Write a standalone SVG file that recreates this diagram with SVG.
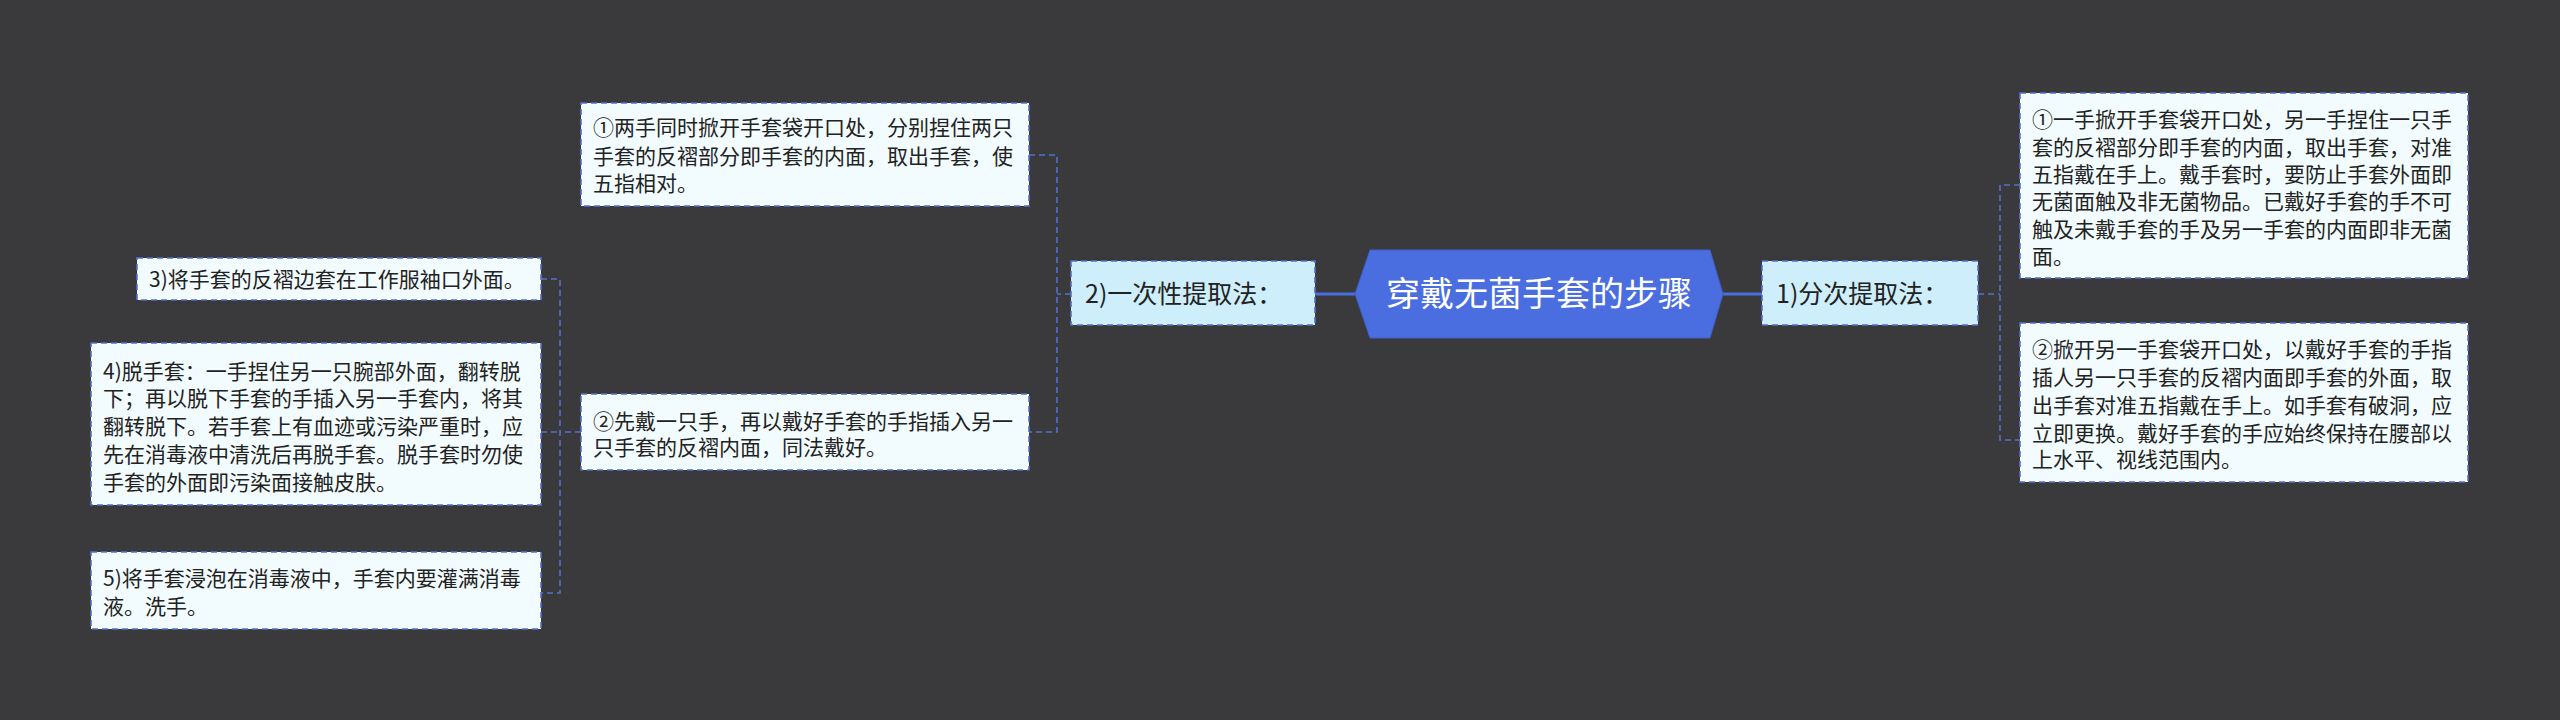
<svg xmlns="http://www.w3.org/2000/svg" width="2560" height="720" viewBox="0 0 2560 720">
<style>
.leaf{fill:#f2fcfe;stroke:#5570cc;stroke-width:1.6;stroke-dasharray:6 4}
.sub{fill:#cdeefa;stroke:#5570cc;stroke-width:1.6;stroke-dasharray:6 4}
.t{font-family:"Noto Sans CJK SC","Noto Sans",sans-serif;font-size:21px;fill:#222}
.ts{font-family:"Noto Sans CJK SC","Noto Sans",sans-serif;font-size:25px;fill:#222}
.c{fill:none;stroke:#5570cc;stroke-width:1.6;stroke-dasharray:6 4}
.cs{fill:none;stroke:#4a6ee0;stroke-width:3}
</style>
<rect width="2560" height="720" fill="#3a393b"/>
<g id="connectors">
<path class="cs" d="M1355 294H1315M1723 294H1762"/>
<path class="c" d="M1978 294H2000M2020 185H2000V440H2020"/>
<path class="c" d="M1071 294H1057M1029 155H1057V432H1029"/>
<path class="c" d="M581 432H560M541 279H560V593H541M541 432H560"/>
</g>
<g id="center"><polygon points="1370,250 1710,250 1723,294 1710,338 1370,338 1355,294" fill="#4a6ee0" stroke="#3e5fcc"/>
<text x="1539" y="306" text-anchor="middle" font-family="Noto Sans CJK SC,sans-serif" font-size="34" fill="#fff">穿戴无菌手套的步骤</text></g>
<g id="n1"><rect class="sub" x="1762" y="261" width="216" height="64"/><text class="ts" x="1776" y="303">1)分次提取法：</text></g>
<g id="n2"><rect class="sub" x="1071" y="261" width="244" height="64"/><text class="ts" x="1085" y="303">2)一次性提取法：</text></g>
<g id="r1"><rect class="leaf" x="2020" y="93" width="448" height="185"/><text class="t"><tspan x="2032" y="127">①一手掀开手套袋开口处，另一手捏住一只手</tspan><tspan x="2032" y="155">套的反褶部分即手套的内面，取出手套，对准</tspan><tspan x="2032" y="182">五指戴在手上。戴手套时，要防止手套外面即</tspan><tspan x="2032" y="209">无菌面触及非无菌物品。已戴好手套的手不可</tspan><tspan x="2032" y="237">触及未戴手套的手及另一手套的内面即非无菌</tspan><tspan x="2032" y="264">面。</tspan></text></g>
<g id="r2"><rect class="leaf" x="2020" y="323" width="448" height="159"/><text class="t"><tspan x="2032" y="357">②掀开另一手套袋开口处，以戴好手套的手指</tspan><tspan x="2032" y="385">插人另一只手套的反褶内面即手套的外面，取</tspan><tspan x="2032" y="413">出手套对准五指戴在手上。如手套有破洞，应</tspan><tspan x="2032" y="441">立即更换。戴好手套的手应始终保持在腰部以</tspan><tspan x="2032" y="467">上水平、视线范围内。</tspan></text></g>
<g id="l1"><rect class="leaf" x="581" y="103" width="448" height="103"/><text class="t"><tspan x="593" y="135">①两手同时掀开手套袋开口处，分别捏住两只</tspan><tspan x="593" y="164">手套的反褶部分即手套的内面，取出手套，使</tspan><tspan x="593" y="191">五指相对。</tspan></text></g>
<g id="l2"><rect class="leaf" x="581" y="394" width="448" height="76"/><text class="t"><tspan x="593" y="429">②先戴一只手，再以戴好手套的手指插入另一</tspan><tspan x="593" y="455">只手套的反褶内面，同法戴好。</tspan></text></g>
<g id="l3"><rect class="leaf" x="137" y="258" width="404" height="42"/><text class="t" x="149" y="287">3)将手套的反褶边套在工作服袖口外面。</text></g>
<g id="l4"><rect class="leaf" x="91" y="343" width="450" height="162"/><text class="t"><tspan x="103" y="379">4)脱手套：一手捏住另一只腕部外面，翻转脱</tspan><tspan x="103" y="406">下；再以脱下手套的手插入另一手套内，将其</tspan><tspan x="103" y="434">翻转脱下。若手套上有血迹或污染严重时，应</tspan><tspan x="103" y="462">先在消毒液中清洗后再脱手套。脱手套时勿使</tspan><tspan x="103" y="490">手套的外面即污染面接触皮肤。</tspan></text></g>
<g id="l5"><rect class="leaf" x="91" y="552" width="450" height="77"/><text class="t"><tspan x="103" y="586">5)将手套浸泡在消毒液中，手套内要灌满消毒</tspan><tspan x="103" y="614">液。洗手。</tspan></text></g>
</svg>
